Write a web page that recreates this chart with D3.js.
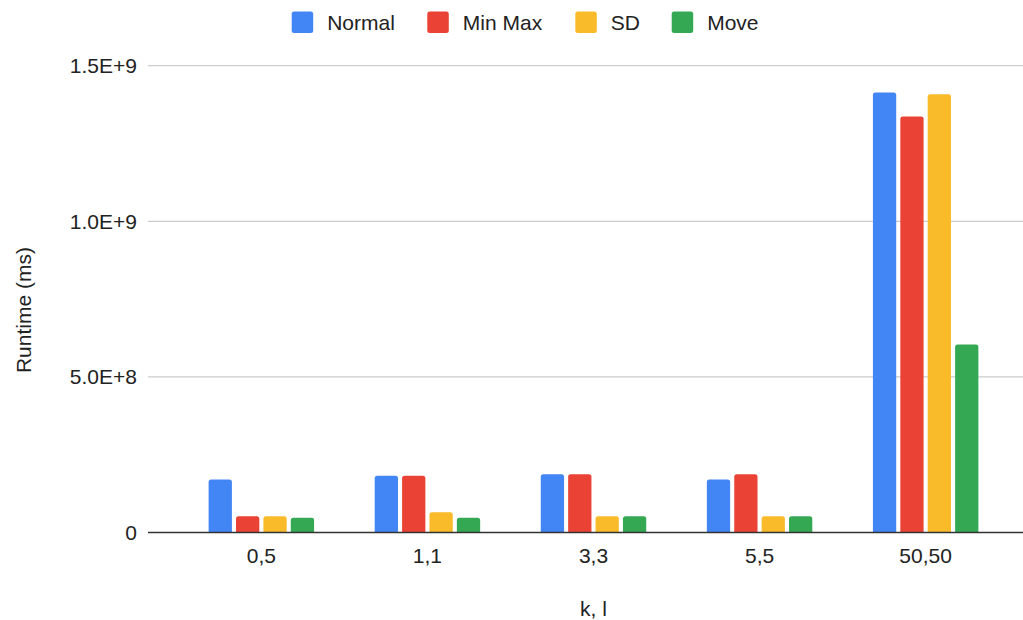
<!DOCTYPE html>
<html>
<head>
<meta charset="utf-8">
<script src="https://cdn.jsdelivr.net/npm/d3@7"></script>
<style>
  html, body { margin: 0; padding: 0; background: #fff; }
  svg { display: block; font-family: "Liberation Sans", Arial, Helvetica, sans-serif; }
</style>
</head>
<body>
<svg id="chart" width="1023" height="620"></svg>
<script>
// Runtime per (k, l) setting for each normalisation method
const categories = ["0,5", "1,1", "3,3", "5,5", "50,50"];
const seriesNames = ["Normal", "Min Max", "SD", "Move"];
const seriesColors = ["#4285f4", "#ea4335", "#f9bb2a", "#34a853"];
const normalValues = [1.70e8, 1.82e8, 1.87e8, 1.70e8, 1.414e9];
const minMaxValues = [5.2e7, 1.82e8, 1.87e8, 1.87e8, 1.337e9];
const sdValues     = [5.2e7, 6.5e7, 5.2e7, 5.2e7, 1.408e9];
const moveValues   = [4.7e7, 4.7e7, 5.2e7, 5.2e7, 6.04e8];
const yTicks = [0, 5e8, 1e9, 1.5e9];
const yTickLabels = ["0", "5.0E+8", "1.0E+9", "1.5E+9"];
const xTitle = "k, l";
const yTitle = "Runtime (ms)";

const seriesValues = [normalValues, minMaxValues, sdValues, moveValues];
const rows = categories.map((c, i) => ({
  cat: c,
  vals: seriesNames.map((s, j) => ({ series: s, color: seriesColors[j], value: seriesValues[j][i] }))
}));

const svg = d3.select("#chart");
const plot = { left: 148, right: 1039, top: 65.7, bottom: 532.5 };
const fontSize = 21;

const x = d3.scaleBand().domain(categories).range([plot.left, plot.right]).paddingInner(0.365).paddingOuter(0.365);
const xInner = d3.scaleBand().domain(seriesNames).range([0, x.bandwidth()]).paddingInner(0.15);
const y = d3.scaleLinear().domain([0, 1.5e9]).range([plot.bottom, plot.top]);

// Horizontal gridlines
svg.append("g").selectAll("line").data(yTicks.slice(1)).join("line")
  .attr("x1", plot.left).attr("x2", plot.right)
  .attr("y1", d => y(d)).attr("y2", d => y(d))
  .attr("stroke", "#cccccc").attr("stroke-width", 1.2);

// Y tick labels
svg.append("g").selectAll("text").data(yTicks).join("text")
  .attr("x", 137).attr("y", d => y(d))
  .attr("dy", "0.35em").attr("text-anchor", "end")
  .attr("font-size", fontSize).attr("fill", "#222")
  .text((d, i) => yTickLabels[i]);

// Bars with slightly rounded tops
const barPath = (x0, w, yTop, yBase, r) => {
  r = Math.min(r, (yBase - yTop), w / 2);
  return `M${x0},${yBase}V${yTop + r}Q${x0},${yTop} ${x0 + r},${yTop}H${x0 + w - r}Q${x0 + w},${yTop} ${x0 + w},${yTop + r}V${yBase}Z`;
};

const groups = svg.append("g").selectAll("g").data(rows).join("g")
  .attr("transform", d => `translate(${x(d.cat)},0)`);
groups.selectAll("path").data(d => d.vals).join("path")
  .attr("d", d => barPath(xInner(d.series), xInner.bandwidth(), y(d.value), y(0), 2.5))
  .attr("fill", d => d.color);

// Baseline
svg.append("line")
  .attr("x1", plot.left).attr("x2", plot.right)
  .attr("y1", y(0)).attr("y2", y(0))
  .attr("stroke", "#333").attr("stroke-width", 1.6);

// X tick labels
svg.append("g").selectAll("text").data(categories).join("text")
  .attr("x", d => x(d) + x.bandwidth() / 2).attr("y", 563)
  .attr("text-anchor", "middle").attr("font-size", fontSize).attr("fill", "#222")
  .text(d => d);

// Axis titles
const xCenter = (x(categories[0]) + x(categories[categories.length - 1]) + x.bandwidth()) / 2;
svg.append("text").attr("x", xCenter).attr("y", 616)
  .attr("text-anchor", "middle").attr("font-size", fontSize).attr("fill", "#222")
  .text(xTitle);
svg.append("text")
  .attr("transform", `translate(31,${(plot.top + plot.bottom) / 2 + 11}) rotate(-90)`)
  .attr("text-anchor", "middle").attr("font-size", fontSize).attr("fill", "#222")
  .text(yTitle);

// Legend
const legendX = [291.7, 427.3, 575.3, 671.7];
const legend = svg.append("g").selectAll("g").data(seriesNames).join("g")
  .attr("transform", (d, i) => `translate(${legendX[i]},11.5)`);
legend.append("rect").attr("width", 21.5).attr("height", 21.5).attr("rx", 2.5)
  .attr("fill", (d, i) => seriesColors[i]);
legend.append("text").attr("x", 35.5).attr("y", 10.8).attr("dy", "0.35em")
  .attr("font-size", fontSize).attr("fill", "#222").text(d => d);
</script>
</body>
</html>
